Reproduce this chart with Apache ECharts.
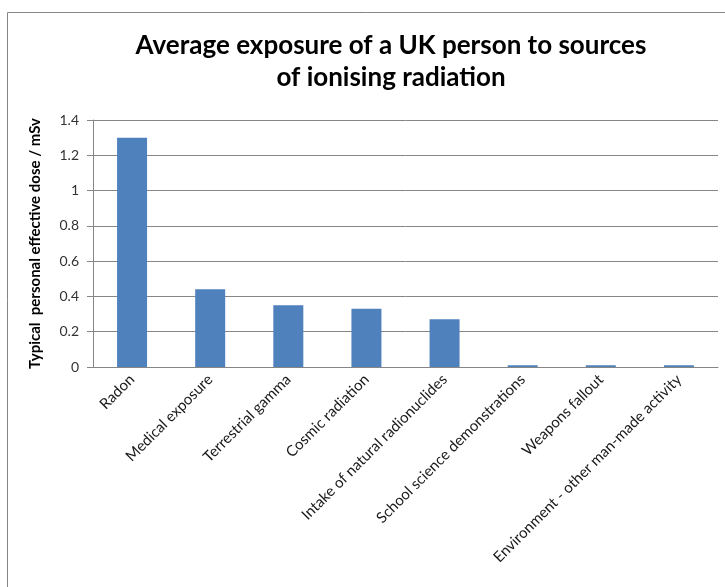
<!DOCTYPE html>
<html>
<head>
<meta charset="utf-8">
<script src="https://cdn.jsdelivr.net/npm/echarts@6/dist/echarts.min.js"></script>
<style>
  html, body { margin: 0; padding: 0; background: #fff; }
  #main { width: 725px; height: 587px; }
</style>
</head>
<body>
<div id="main"></div>
<script>
const categories = [
  'Radon',
  'Medical exposure',
  'Terrestrial gamma',
  'Cosmic radiation',
  'Intake of natural radionuclides',
  'School science demonstrations',
  'Weapons fallout',
  'Environment - other man-made activity'
];
const doses = [1.3, 0.44, 0.35, 0.33, 0.27, 0.01, 0.01, 0.01];
const yTicks = [0, 0.2, 0.4, 0.6, 0.8, 1, 1.2, 1.4];

const font = 'Lato, "Open Sans", sans-serif';
const chart = echarts.init(document.getElementById('main'));

const option = {
  animation: false,
  graphic: [{
    type: 'rect',
    shape: { x: 7.5, y: 12.5, width: 740, height: 600 },
    style: { fill: 'none', stroke: '#868686', lineWidth: 1 }
  }],
  title: {
    text: 'Average exposure of a UK person to sources\nof ionising radiation',
    left: 386,
    top: 25,
    textAlign: 'center',
    textStyle: {
      fontFamily: font,
      fontSize: 26,
      fontWeight: 'bold',
      color: '#000',
      lineHeight: 32
    }
  },
  grid: { left: 93, right: 7, top: 120, bottom: 220 },
  xAxis: {
    type: 'category',
    data: categories,
    axisLine: { lineStyle: { color: '#868686' } },
    axisTick: { length: 6, lineStyle: { color: '#868686' } },
    axisLabel: {
      rotate: 45,
      interval: 0,
      margin: 10,
      fontFamily: font,
      fontSize: 15,
      color: '#1a1a1a'
    }
  },
  yAxis: {
    type: 'value',
    min: 0,
    max: 1.4,
    interval: 0.2,
    name: 'Typical  personal effective dose / mSv',
    nameLocation: 'middle',
    nameGap: 50,
    nameTextStyle: { fontFamily: font, fontSize: 15, fontWeight: 'bold', color: '#000' },
    axisLine: { show: true, lineStyle: { color: '#868686' } },
    axisTick: { show: true, length: 6, lineStyle: { color: '#868686' } },
    axisLabel: {
      margin: 14,
      fontFamily: font,
      fontSize: 14,
      color: '#333',
      formatter: function (v) {
        const hit = yTicks.find(t => Math.abs(t - v) < 1e-9);
        return hit === undefined ? '' : String(hit);
      }
    },
    splitLine: { lineStyle: { color: '#868686' } }
  },
  series: [{
    type: 'bar',
    data: doses,
    barWidth: 30,
    itemStyle: { color: '#4F81BD' }
  }]
};
chart.setOption(option);
</script>
</body>
</html>
